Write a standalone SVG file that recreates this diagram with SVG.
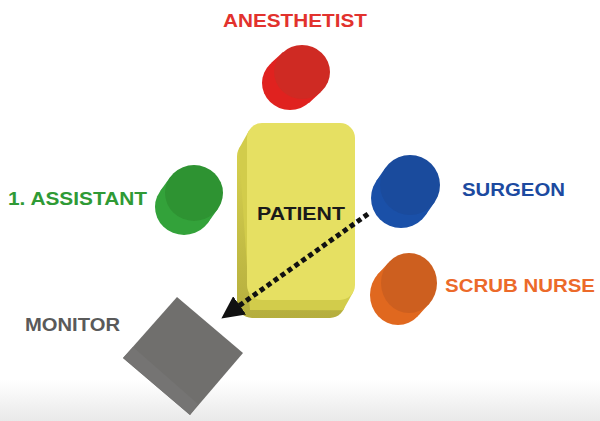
<svg xmlns="http://www.w3.org/2000/svg" width="600" height="421" viewBox="0 0 600 421">
<defs>
<linearGradient id="bg" x1="0" y1="0" x2="0" y2="1">
<stop offset="0" stop-color="#ffffff"/>
<stop offset="1" stop-color="#e9e9e9"/>
</linearGradient>
<linearGradient id="patSide" x1="0" y1="0" x2="0" y2="1">
<stop offset="0" stop-color="#d8d24f"/>
<stop offset="1" stop-color="#b5ae3e"/>
</linearGradient>
<marker id="arrow" viewBox="0 0 10 10" refX="2" refY="5" markerWidth="4.5" markerHeight="4.5" orient="auto" markerUnits="strokeWidth">
<path d="M0,0 L10,5 L0,10 z" fill="#111"/>
</marker>
<style>
.lbl{font-family:"Liberation Sans",Arial,sans-serif;font-weight:bold;font-size:18px}
</style>
</defs>
<rect width="600" height="421" fill="#fff"/>
<rect y="380" width="600" height="41" fill="url(#bg)"/>

<g id="anesthetist">
<ellipse cx="290" cy="83" rx="28" ry="27" fill="#e0221f"/>
<polygon points="320.9,91.9 308.9,102.9 271.1,63.1 283.1,52.1" fill="#e0221f"/>
<ellipse cx="302" cy="72" rx="28" ry="27" fill="#cf2a23"/>
<text class="lbl" x="223" y="27" fill="#e2322d" textLength="144" lengthAdjust="spacingAndGlyphs">ANESTHETIST</text>
</g>

<g id="assistant">
<ellipse cx="184" cy="207" rx="29" ry="28" fill="#33a23a"/>
<polygon points="217.6,209.3 207.6,223.3 160.4,190.7 170.4,176.7" fill="#33a23a"/>
<ellipse cx="194" cy="193" rx="29" ry="28" fill="#2e9332"/>
<text class="lbl" x="8" y="205" fill="#2f9a35" textLength="139" lengthAdjust="spacingAndGlyphs">1. ASSISTANT</text>
</g>

<g id="surgeon">
<ellipse cx="401" cy="198" rx="30" ry="30" fill="#1a50a8"/>
<polygon points="434.7,202.1 425.7,215.1 376.3,180.9 385.3,167.9" fill="#1a50a8"/>
<ellipse cx="410" cy="185" rx="30" ry="30" fill="#1a4b9d"/>
<text class="lbl" x="462" y="196" fill="#1c4aa0" textLength="103" lengthAdjust="spacingAndGlyphs">SURGEON</text>
</g>

<g id="scrub-nurse">
<ellipse cx="398" cy="295" rx="28" ry="30" fill="#e0681f"/>
<polygon points="429.6,303.3 418.6,315.3 377.4,274.7 388.4,262.7" fill="#e0681f"/>
<ellipse cx="409" cy="283" rx="28" ry="30" fill="#cd5f1f"/>
<text class="lbl" x="445" y="292" fill="#ec6a2a" textLength="150" lengthAdjust="spacingAndGlyphs">SCRUB NURSE</text>
</g>

<g id="patient">
<rect x="237" y="141" width="108" height="177" rx="15" fill="url(#patSide)"/>
<polygon points="248.9,130.7 238.9,148.7 250,310 343.1,310.3 353.1,292.3 262,138" fill="#d2cc4b"/>
<rect x="247" y="123" width="108" height="177" rx="15" fill="#e6e062"/>
<text class="lbl" x="257" y="220" fill="#1a1a1a" textLength="88" lengthAdjust="spacingAndGlyphs">PATIENT</text>
</g>

<g id="monitor">
<polygon points="177,297 243,353 190,415 123,358" fill="#706f6d"/>
<polygon points="123,358 133,347 198,404 190,415" fill="#757473"/>
<text class="lbl" x="25" y="331" fill="#5a5a5a" textLength="95" lengthAdjust="spacingAndGlyphs">MONITOR</text>
</g>

<g id="connectors">
<line x1="368" y1="214" x2="236" y2="308" stroke="#111" stroke-width="5" stroke-dasharray="5 3.5" marker-end="url(#arrow)"/>
</g>
</svg>
